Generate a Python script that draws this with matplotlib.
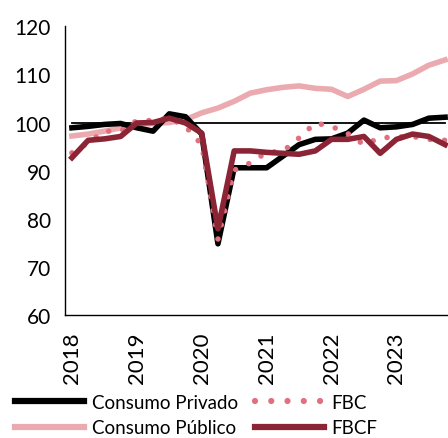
import numpy as np
import matplotlib
matplotlib.use("Agg")
import matplotlib.pyplot as plt

plt.rcParams['font.family'] = ['Lato', 'DejaVu Sans']

# quarterly index, 2018Q1 .. 2023Q4
years = ["2018", "2019", "2020", "2021", "2022", "2023"]
consumo_privado = [98.9, 99.2, 99.6, 99.8, 98.9, 98.2, 101.8, 101.2, 97.6, 74.8,
                   90.6, 90.6, 90.6, 93.0, 95.4, 96.5, 96.6, 97.8, 100.5, 98.9,
                   99.1, 99.6, 100.9, 101.1]
consumo_publico = [97.2, 97.6, 98.2, 98.9, 99.6, 99.8, 100.0, 100.6, 102.0, 103.0,
                   104.4, 106.1, 106.8, 107.3, 107.6, 107.1, 106.9, 105.4, 106.9, 108.6,
                   108.7, 110.1, 111.9, 113.0]
fbc = [93.7, 95.8, 98.2, 98.2, 100.4, 100.4, 100.9, 99.2, 95.4, 75.8,
       90.1, 91.6, 93.8, 94.0, 96.8, 99.9, 99.2, 97.7, 95.4, 96.8,
       97.0, 97.1, 96.5, 96.3]
fbcf = [92.7, 96.3, 96.6, 97.1, 99.9, 100.0, 100.9, 99.9, 97.8, 77.9,
        94.1, 94.1, 93.8, 93.6, 93.4, 94.1, 96.5, 96.5, 97.1, 93.6,
        96.5, 97.6, 97.1, 95.4]

x = np.arange(len(consumo_privado))

fig = plt.figure(figsize=(4.48, 4.39), dpi=100)
ax = fig.add_axes([0.145, 0.28, 0.855, 0.658])

LW = 4.0
ax.plot([x[0], x[-1]], [100, 100], color="black", lw=1.3, zorder=1)
ax.plot(x, consumo_publico, color="#EBAAB0", lw=LW, label="Consumo Público", zorder=2)
ax.plot(x, consumo_privado, color="black", lw=LW, label="Consumo Privado", zorder=3)
ax.plot(x, fbc, color="#E0707E", lw=LW, linestyle=(0, (0.001, 2.6)),
        dash_capstyle="round", label="FBC", zorder=4)
ax.plot(x, fbcf, color="#8B2535", lw=LW, label="FBCF", zorder=5)

ax.set_ylim(60, 120)
ax.set_yticks(range(60, 121, 10))
ax.set_xlim(-0.43, 23.18)
ax.set_xticks(x[::4])
ax.set_xticklabels(years, rotation=90)
ax.tick_params(axis="both", length=0)
ax.tick_params(axis="y", labelsize=15, pad=10)
ax.tick_params(axis="x", labelsize=16, pad=12)
for s in ["top", "right"]:
    ax.spines[s].set_visible(False)
for s in ["left", "bottom"]:
    ax.spines[s].set_linewidth(1.0)

h, l = ax.get_legend_handles_labels()
# row-wise: Consumo Privado, FBC / Consumo Público, FBCF
hh = [h[i] for i in [1, 0, 2, 3]]
ll = [l[i] for i in [1, 0, 2, 3]]
leg = fig.legend(hh, ll, ncol=2, loc="upper left", bbox_to_anchor=(0.033, 0.101),
                 frameon=False, fontsize=13.5, handlelength=3.7, handletextpad=0.4,
                 columnspacing=0.9, labelspacing=0.45, borderaxespad=0, borderpad=0)
for ln in leg.get_lines():
    ln.set_linewidth(4.5)

plt.savefig("out.png", dpi=100)
